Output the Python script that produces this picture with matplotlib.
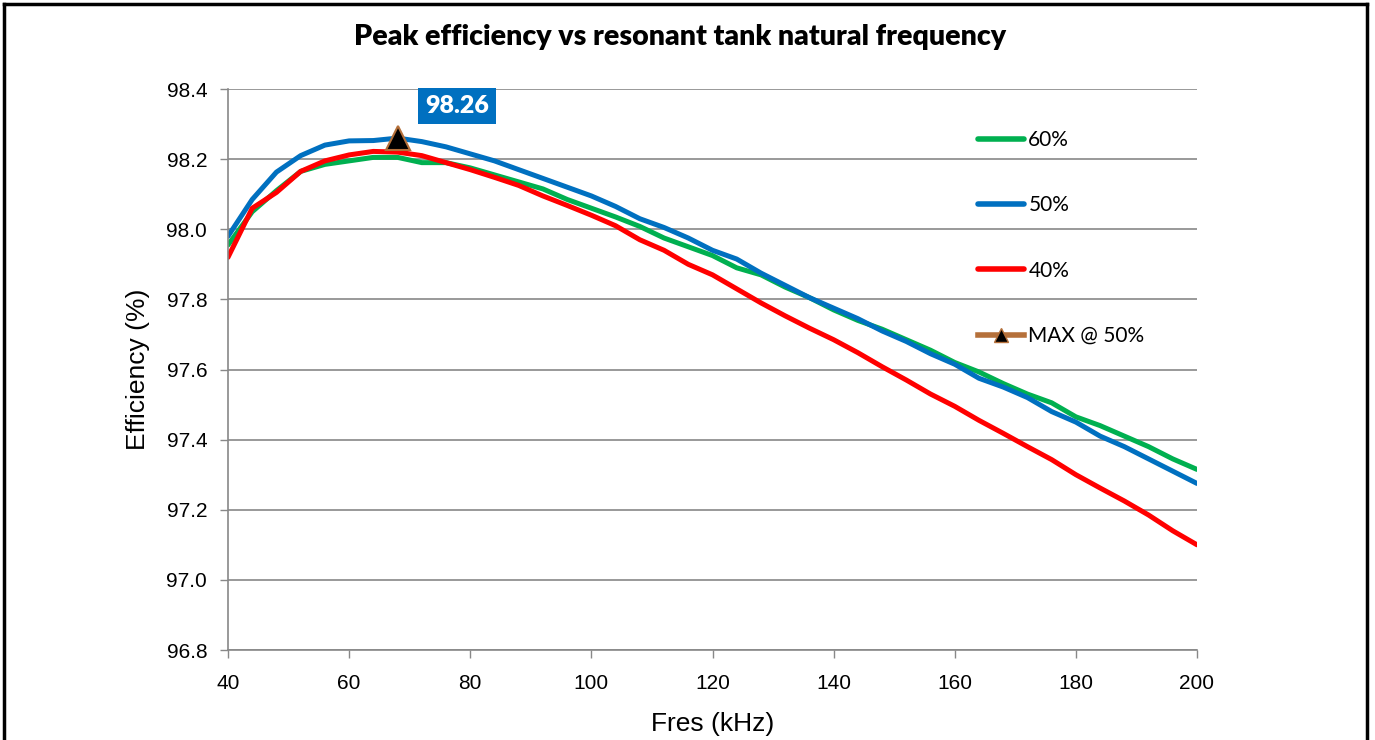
import numpy as np
import matplotlib
matplotlib.use('Agg')
import matplotlib.pyplot as plt
from matplotlib.lines import Line2D

# resonant frequency (kHz), 4 kHz steps
fres = list(range(40, 201, 4))

eff_60 = [97.955, 98.05, 98.11, 98.165, 98.185, 98.195, 98.205, 98.205, 98.19, 98.19,
          98.175, 98.155, 98.135, 98.115, 98.085, 98.06, 98.035, 98.008, 97.975, 97.95,
          97.925, 97.89, 97.87, 97.835, 97.805, 97.77, 97.74, 97.715, 97.685, 97.655,
          97.62, 97.593, 97.56, 97.53, 97.505, 97.465, 97.44, 97.41, 97.38, 97.345,
          97.315]
eff_50 = [97.98, 98.085, 98.163, 98.21, 98.24, 98.252, 98.253, 98.26, 98.25, 98.235,
          98.215, 98.195, 98.17, 98.145, 98.12, 98.095, 98.065, 98.03, 98.005, 97.975,
          97.94, 97.915, 97.875, 97.84, 97.805, 97.775, 97.745, 97.71, 97.68, 97.645,
          97.615, 97.575, 97.55, 97.52, 97.48, 97.45, 97.41, 97.38, 97.345, 97.31,
          97.275]
eff_40 = [97.92, 98.06, 98.105, 98.165, 98.195, 98.212, 98.222, 98.22, 98.21, 98.19,
          98.17, 98.148, 98.125, 98.095, 98.068, 98.04, 98.01, 97.97, 97.94, 97.9,
          97.87, 97.83, 97.79, 97.753, 97.718, 97.685, 97.648, 97.608, 97.57, 97.53,
          97.495, 97.455, 97.418, 97.38, 97.343, 97.3, 97.262, 97.225, 97.185, 97.14,
          97.10]

max_f = 68
max_eff = 98.26

green = '#00B050'
blue = '#0070C0'
red = '#FF0000'
brown = '#B5703A'

fig = plt.figure(figsize=(13.75, 7.4), dpi=100)
ax = fig.add_axes([228/1375, 1-650/740, (1197-228)/1375, (650-89)/740])

ax.plot(fres, eff_60, color=green, linewidth=3.6, label='60%', solid_capstyle='round')
ax.plot(fres, eff_50, color=blue, linewidth=3.6, label='50%', solid_capstyle='round')
ax.plot(fres, eff_40, color=red, linewidth=3.6, label='40%', solid_capstyle='round')
ax.plot([max_f], [max_eff], linestyle='none', marker='^', markersize=17,
        markerfacecolor='black', markeredgecolor=brown, markeredgewidth=1.5, zorder=5)

ax.annotate('{:.2f}'.format(max_eff), xy=(max_f, max_eff), xytext=(43, 23),
            textcoords='offset points', ha='center', va='center',
            fontsize=18, fontweight='heavy', color='white', family='Lato',
            bbox=dict(boxstyle='square,pad=0.28', fc=blue, ec='none'))

ax.set_xlim(40, 200)
ax.set_ylim(96.8, 98.4)
ax.set_xticks(np.arange(40, 201, 20))
ax.set_yticks(np.arange(96.8, 98.41, 0.2))
ax.set_yticklabels(['{:.1f}'.format(v) for v in np.arange(96.8, 98.41, 0.2)])
ax.tick_params(axis='both', labelsize=15, colors='#888888', labelcolor='black',
               direction='out', length=6, width=1)
for lbl in ax.get_xticklabels() + ax.get_yticklabels():
    lbl.set_family('Liberation Sans')
ax.tick_params(axis='x', pad=11)
ax.tick_params(axis='y', pad=9)
ax.grid(axis='y', color='#888888', linewidth=1.2)
ax.set_axisbelow(True)
for side in ['top', 'right']:
    ax.spines[side].set_visible(False)
for side in ['left', 'bottom']:
    ax.spines[side].set_color('#888888')
    ax.spines[side].set_linewidth(1.2)

ax.set_xlabel('Fres (kHz)', fontsize=19, family='Liberation Sans', labelpad=14)
ax.set_ylabel('Efficiency (%)', fontsize=19, family='Liberation Sans', labelpad=12)
fig.text(680/1375, 1-37/740, 'Peak efficiency vs resonant tank natural frequency',
         ha='center', va='center', fontsize=20.5, fontweight='heavy', family='Lato')

handles = [Line2D([], [], color=green, lw=4, solid_capstyle='round'),
           Line2D([], [], color=blue, lw=4, solid_capstyle='round'),
           Line2D([], [], color=red, lw=4, solid_capstyle='round'),
           Line2D([], [], color=brown, lw=4, marker='^', markersize=10,
                  markerfacecolor='black', markeredgecolor=brown)]
leg = ax.legend(handles, ['60%', '50%', '40%', 'MAX @ 50%'], frameon=False,
                loc='upper left', bbox_to_anchor=(0.755, 0.96),
                prop={'family': 'Lato', 'size': 15},
                handlelength=2.2, handletextpad=0.2, labelspacing=2.17)

# outer frame like the pasted screenshot
fig.add_artist(Line2D([4/1375, 4/1375], [0, 1-4/740], color='black', lw=2.5))
fig.add_artist(Line2D([1367/1375, 1367/1375], [0, 1-4/740], color='black', lw=2.5))
fig.add_artist(Line2D([4/1375, 1367/1375], [1-4/740, 1-4/740], color='black', lw=2.5))

plt.savefig('out.png', dpi=100)
